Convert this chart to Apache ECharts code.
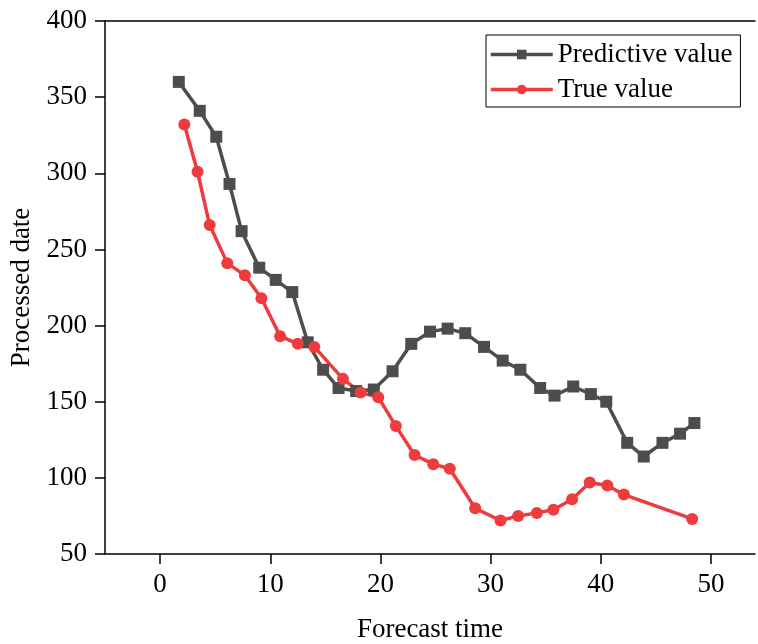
<!DOCTYPE html>
<html>
<head>
<meta charset="utf-8">
<script src="https://cdn.jsdelivr.net/npm/echarts@6/dist/echarts.min.js"></script>
<style>
  html, body { margin: 0; padding: 0; background: #fff; }
  #main { width: 758px; height: 644px; }
</style>
</head>
<body>
<div id="main"></div>
<script>
// 数据
var predX = [1.7, 3.6, 5.1, 6.3, 7.4, 9.0, 10.5, 12.0, 13.4, 14.8, 16.2, 17.8, 19.4, 21.1, 22.8, 24.5, 26.1, 27.7, 29.4, 31.1, 32.7, 34.5, 35.8, 37.5, 39.1, 40.5, 42.4, 43.9, 45.6, 47.2, 48.5];
var predY = [360, 341, 324, 293, 262, 238, 230, 222, 189, 171, 159, 157, 158, 170, 188, 196, 198, 195, 186, 177, 171, 159, 154, 160, 155, 150, 123, 114, 123, 129, 136];
var trueX = [2.2, 3.4, 4.5, 6.1, 7.7, 9.2, 10.9, 12.5, 14.0, 16.6, 18.2, 19.8, 21.4, 23.1, 24.8, 26.3, 28.6, 30.9, 32.5, 34.2, 35.7, 37.4, 39.0, 40.6, 42.1, 48.3];
var trueY = [332, 301, 266, 241, 233, 218, 193, 188, 186, 165, 156, 153, 134, 115, 109, 106, 80, 72, 75, 77, 79, 86, 97, 95, 89, 73];
var xTicks = [0, 10, 20, 30, 40, 50];
var seriesNames = ['Predictive value', 'True value'];

function pairs(xs, ys) {
    var out = [];
    for (var i = 0; i < xs.length; i++) out.push([xs[i], ys[i]]);
    return out;
}

var font = 'Liberation Serif, Times New Roman, serif';
var fs = 27;
var myChart = echarts.init(document.getElementById('main'));

var option = {
    backgroundColor: '#fff',
    animation: false,
    textStyle: { fontFamily: font, color: '#000' },
    grid: { left: 105, top: 21, right: 3, bottom: 90, containLabel: false, outerBoundsMode: 'none' },
    legend: {
        left: 486, top: 35,
        orient: 'vertical',
        itemWidth: 62, itemHeight: 12, itemGap: 8,
        padding: [6, 8, 4, 3],
        borderColor: '#000', borderWidth: 1,
        lineStyle: { width: 3.5 },
        textStyle: { fontFamily: font, fontSize: fs, color: '#000' },
        data: seriesNames
    },
    xAxis: [
        {
            type: 'value', min: -5, max: 54,
            name: 'Forecast time', nameLocation: 'middle', nameGap: 62,
            nameTextStyle: { fontFamily: font, fontSize: fs, color: '#000' },
            axisLine: { show: true, onZero: false, lineStyle: { color: '#000', width: 1.5 } },
            axisTick: { show: true, length: 10, customValues: xTicks, lineStyle: { color: '#000', width: 1.5 } },
            axisLabel: { customValues: xTicks, margin: 17, fontFamily: font, fontSize: fs, color: '#000' },
            splitLine: { show: false }
        },
        {
            type: 'value', min: -5, max: 54, position: 'top',
            axisLine: { show: true, onZero: false, lineStyle: { color: '#000', width: 1.5 } },
            axisTick: { show: false }, axisLabel: { show: false }, splitLine: { show: false }
        }
    ],
    yAxis: {
        type: 'value', min: 50, max: 400, interval: 50,
        name: 'Processed date', nameLocation: 'middle', nameGap: 65,
        nameTextStyle: { fontFamily: font, fontSize: fs, color: '#000' },
        axisLine: { show: true, onZero: false, lineStyle: { color: '#000', width: 1.5 } },
        axisTick: { show: true, length: 10, lineStyle: { color: '#000', width: 1.5 } },
        axisLabel: { margin: 18, fontFamily: font, fontSize: fs, color: '#000' },
        splitLine: { show: false }
    },
    series: [
        {
            name: seriesNames[0], type: 'line', xAxisIndex: 0,
            symbol: 'rect', symbolSize: 12,
            lineStyle: { color: '#4d4d4d', width: 3.5 },
            itemStyle: { color: '#4d4d4d' },
            data: pairs(predX, predY)
        },
        {
            name: seriesNames[1], type: 'line', xAxisIndex: 0,
            symbol: 'circle', symbolSize: 12,
            lineStyle: { color: '#ee3b3e', width: 3.5 },
            itemStyle: { color: '#ee3b3e' },
            data: pairs(trueX, trueY)
        }
    ]
};

myChart.setOption(option);
</script>
</body>
</html>
